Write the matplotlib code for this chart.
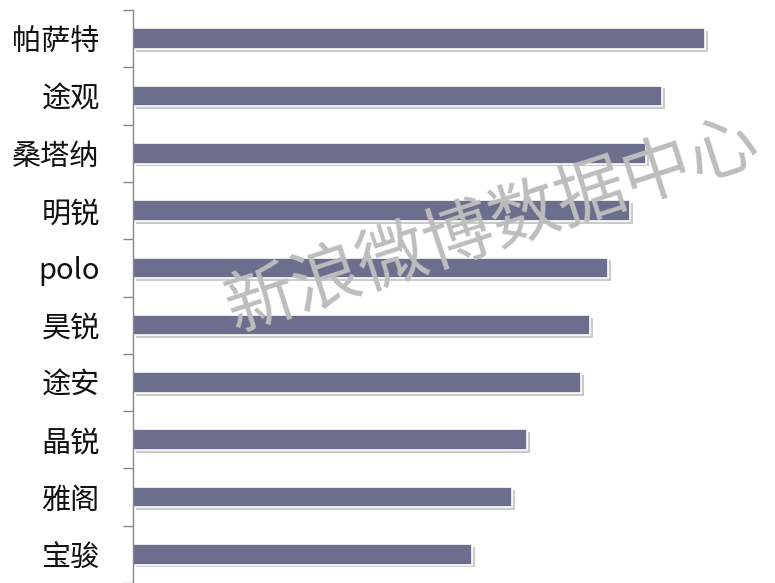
import matplotlib
matplotlib.use("Agg")
import matplotlib.pyplot as plt
import matplotlib.patheffects as pe
import numpy as np

plt.rcParams['font.family'] = ['Noto Sans CJK SC', 'DejaVu Sans']

# car models, top to bottom
models = ['帕萨特', '途观', '桑塔纳', '明锐', 'polo', '昊锐', '途安', '晶锐', '雅阁', '宝骏']
# bar lengths (relative units)
values = [572, 529, 513, 497, 475, 457, 448, 394, 379, 339]

fig = plt.figure(figsize=(7.75, 5.83), dpi=100)
ax = fig.add_axes([133 / 775, 0.0, 1 - 133 / 775, 1 - 10 / 583])

y = np.arange(len(models))
bars = ax.barh(y, values, height=0.36, color='#6b6e8c', edgecolor='white',
               linewidth=1.2)
for b in bars:
    b.set_path_effects([pe.SimplePatchShadow(offset=(2, -2), shadow_rgbFace='#999999', alpha=0.5),
                        pe.Normal()])

ax.set_xlim(0, 642)
ax.set_ylim(len(models) - 0.5, -0.5)

ax.set_yticks(y)
ax.set_yticklabels(models, fontsize=21, color='#111111')
ax.tick_params(axis='y', which='major', length=0, pad=24)
ax.set_yticks(np.arange(-0.5, len(models), 1), minor=True)
ax.tick_params(axis='y', which='minor', length=7, color='#888888', width=1)
ax.set_xticks([])

for s in ['top', 'right', 'bottom']:
    ax.spines[s].set_visible(False)
ax.spines['left'].set_color('#888888')
ax.spines['left'].set_linewidth(1)

# watermark
fig.text(0.635, 0.61, '新浪微博数据中心', fontsize=50, color='#bdbdbd',
         rotation=18, ha='center', va='center', fontweight='light', zorder=10)

fig.savefig('out.png', dpi=100)
